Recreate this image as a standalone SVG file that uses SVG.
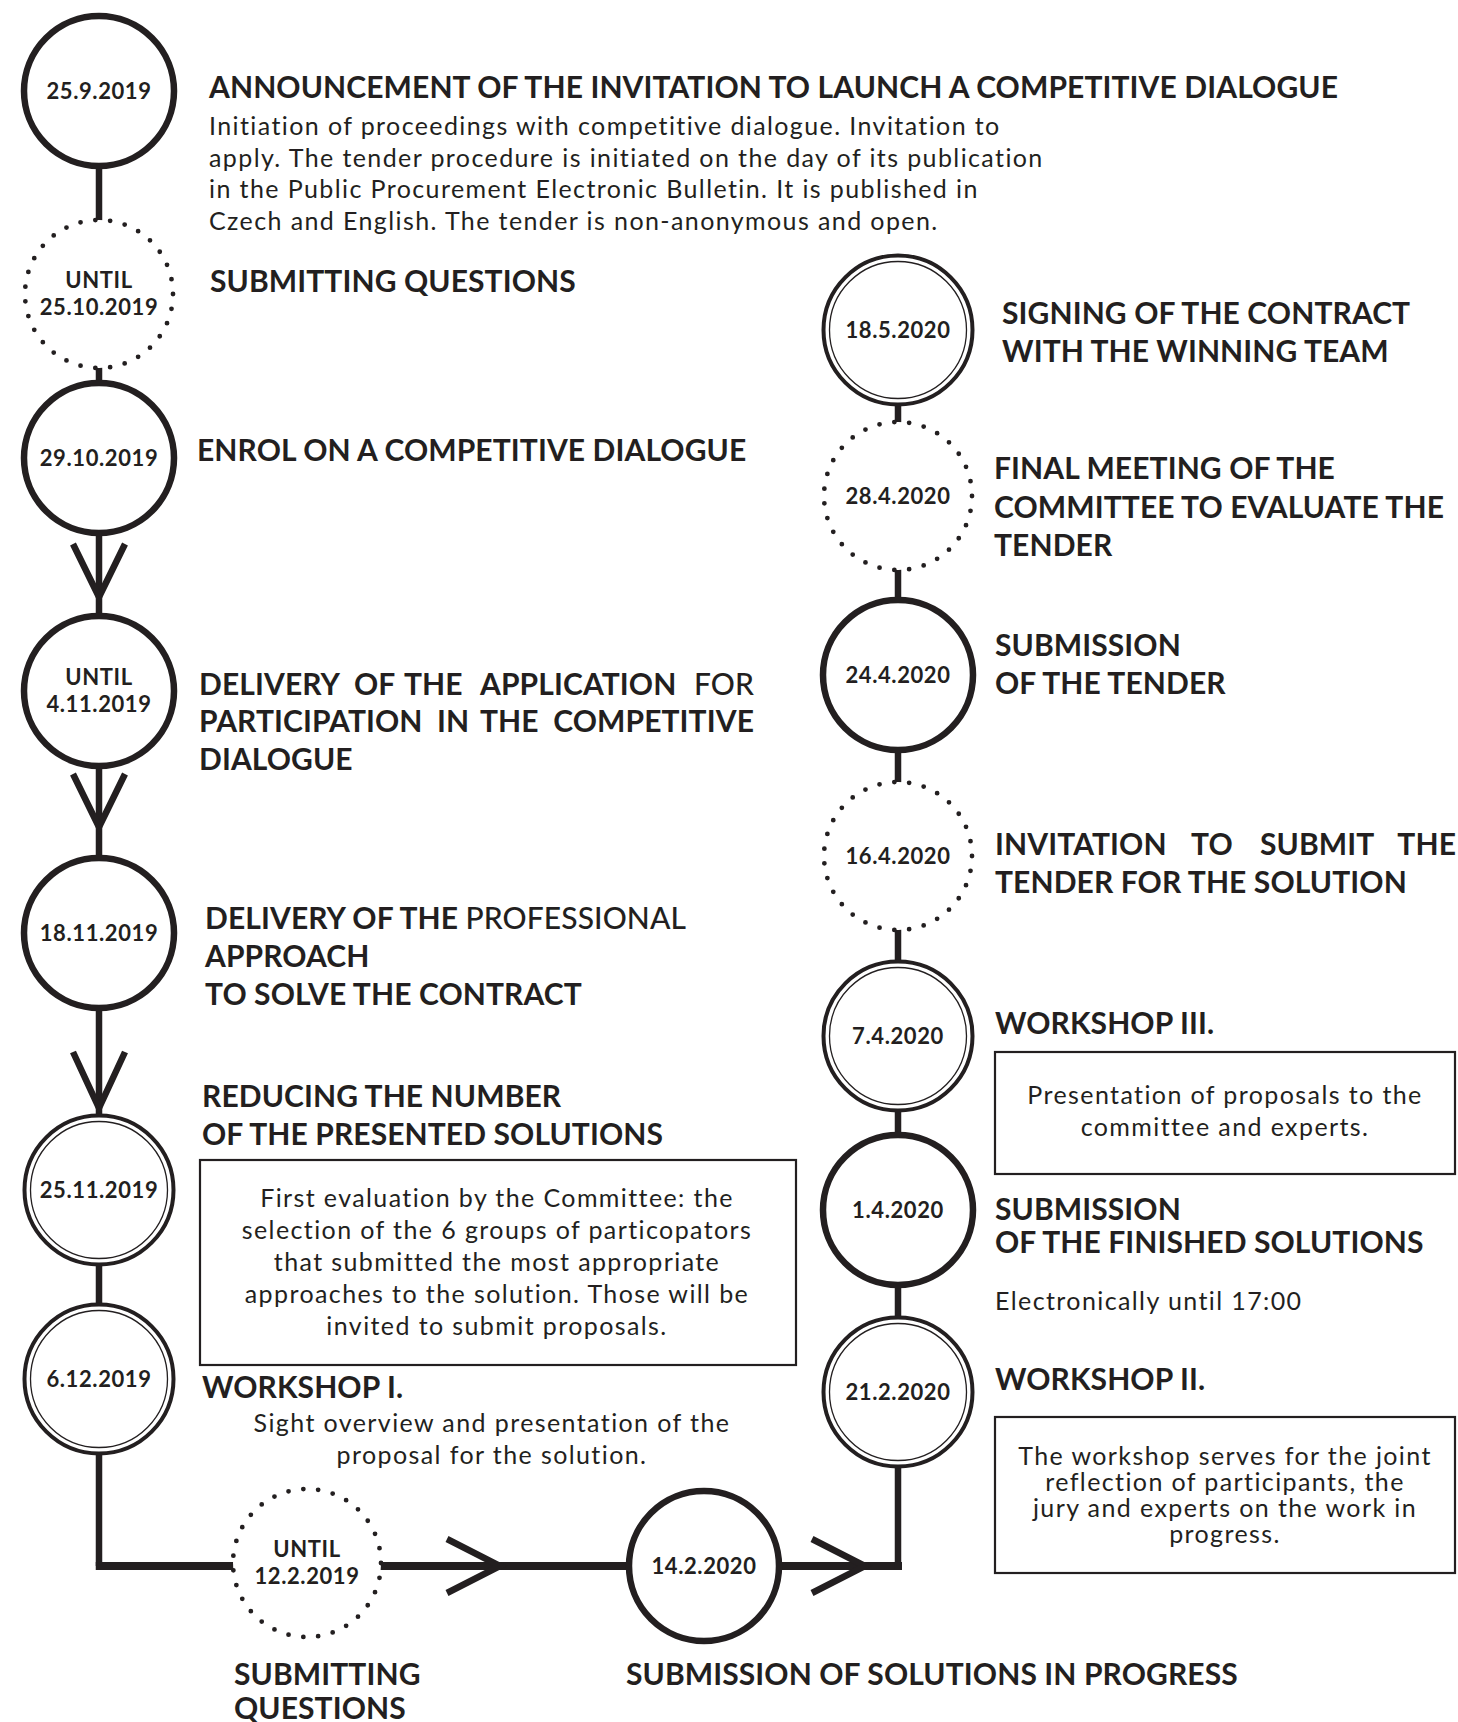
<svg xmlns="http://www.w3.org/2000/svg" width="1458" height="1722" viewBox="0 0 1458 1722">
<style>
  text { font-family: Lato, "Liberation Sans", sans-serif; fill: #231f20; }
  .h { font-weight: 700; font-size: 30px; letter-spacing: 0.1px; }
  .hm { font-weight: 500; }
  .b { font-weight: 400; font-size: 25px; letter-spacing: 1.4px; }
  .bc { font-weight: 400; font-size: 25px; letter-spacing: 1.4px; text-anchor: middle; }
  .d { font-weight: 700; font-size: 22px; text-anchor: middle; letter-spacing: 0.6px; }
  .thick { fill: #fff; stroke: #231f20; stroke-width: 6.5; }
  .dbl { fill: #fff; stroke: #231f20; stroke-width: 4; }
  .dbl-in { fill: none; stroke: #231f20; stroke-width: 1.3; }
  .dot { fill: #fff; stroke: #231f20; stroke-width: 4.8; stroke-linecap: round; stroke-dasharray: 0 1; }
  .box { fill: #fff; stroke: #231f20; stroke-width: 2.2; }
  .ln { fill: none; stroke: #231f20; stroke-width: 6.5; }
  .lnh { fill: none; stroke: #231f20; stroke-width: 8; }
  .chev { fill: none; stroke: #231f20; stroke-width: 6.5; stroke-linejoin: miter; }
</style>
<rect width="1458" height="1722" fill="#fff"/>

<g id="connectors">
  <line class="ln" x1="99" y1="91" x2="99" y2="1566"/>
  <line class="lnh" x1="95.75" y1="1566" x2="902" y2="1566"/>
  <line class="ln" x1="898" y1="330" x2="898" y2="1569"/>
  <polyline class="chev" points="73,544 99,597 125,544"/>
  <polyline class="chev" points="73,774 99,827 125,774"/>
  <polyline class="chev" points="73,1052 99,1108 125,1052"/>
  <polyline class="chev" points="447,1539 500,1566 447,1593"/>
  <polyline class="chev" points="812,1539 865,1566 812,1593"/>
</g>

<g id="n-25-9-2019">
  <circle class="thick" cx="99" cy="91" r="75"/>
  <text class="d" x="99" y="99">25.9.2019</text>
  <text class="h" x="209" y="98">ANNOUNCEMENT OF THE INVITATION TO LAUNCH A COMPETITIVE DIALOGUE</text>
  <text class="b" x="209" y="135">Initiation of proceedings with competitive dialogue. Invitation to</text>
  <text class="b" x="209" y="167">apply. The tender procedure is initiated on the day of its publication</text>
  <text class="b" x="209" y="198">in the Public Procurement Electronic Bulletin. It is published in</text>
  <text class="b" x="209" y="230">Czech and English. The tender is non-anonymous and open.</text>
</g>

<g id="n-25-10-2019">
  <circle class="dot" cx="99" cy="294" r="74" pathLength="31"/>
  <text class="d" x="99" y="288">UNTIL</text>
  <text class="d" x="99" y="315">25.10.2019</text>
  <text class="h" x="210" y="292">SUBMITTING QUESTIONS</text>
</g>

<g id="n-29-10-2019">
  <circle class="thick" cx="99" cy="458" r="75"/>
  <text class="d" x="99" y="466">29.10.2019</text>
  <text class="h" x="197" y="461">ENROL ON A COMPETITIVE DIALOGUE</text>
</g>

<g id="n-4-11-2019">
  <circle class="thick" cx="99" cy="691" r="75"/>
  <text class="d" x="99" y="685">UNTIL</text>
  <text class="d" x="99" y="712">4.11.2019</text>
  <text class="h" y="695"><tspan x="199">DELIVERY</tspan><tspan x="354">OF</tspan><tspan x="404">THE</tspan><tspan x="480">APPLICATION</tspan><tspan class="hm" x="754" text-anchor="end">FOR</tspan></text>
  <text class="h" y="732"><tspan x="199">PARTICIPATION</tspan><tspan x="437">IN</tspan><tspan x="480">THE</tspan><tspan x="754" text-anchor="end">COMPETITIVE</tspan></text>
  <text class="h" x="199" y="770">DIALOGUE</text>
</g>

<g id="n-18-11-2019">
  <circle class="thick" cx="99" cy="933" r="75"/>
  <text class="d" x="99" y="941">18.11.2019</text>
  <text class="h" x="205" y="929">DELIVERY OF THE <tspan class="hm">PROFESSIONAL</tspan></text>
  <text class="h" x="205" y="967">APPROACH</text>
  <text class="h" x="205" y="1005">TO SOLVE THE CONTRACT</text>
</g>

<g id="n-25-11-2019">
  <circle class="dbl" cx="99" cy="1190" r="74.5"/>
  <circle class="dbl-in" cx="99" cy="1190" r="68.5"/>
  <text class="d" x="99" y="1198">25.11.2019</text>
  <text class="h" x="202" y="1107">REDUCING THE NUMBER</text>
  <text class="h" x="202" y="1145">OF THE PRESENTED SOLUTIONS</text>
  <rect class="box" x="200" y="1160" width="596" height="205"/>
  <text class="bc" x="497" y="1207">First evaluation by the Committee: the</text>
  <text class="bc" x="497" y="1239">selection of the 6 groups of particopators</text>
  <text class="bc" x="497" y="1271">that submitted the most appropriate</text>
  <text class="bc" x="497" y="1303">approaches to the solution. Those will be</text>
  <text class="bc" x="497" y="1335">invited to submit proposals.</text>
</g>

<g id="n-6-12-2019">
  <circle class="dbl" cx="99" cy="1379" r="74.5"/>
  <circle class="dbl-in" cx="99" cy="1379" r="68.5"/>
  <text class="d" x="99" y="1387">6.12.2019</text>
  <text class="h" x="202" y="1398">WORKSHOP I.</text>
  <text class="bc" x="492" y="1432">Sight overview and presentation of the</text>
  <text class="bc" x="492" y="1464">proposal for the solution.</text>
</g>

<g id="n-12-2-2019">
  <circle class="dot" cx="307" cy="1563" r="74" pathLength="31"/>
  <text class="d" x="307" y="1557">UNTIL</text>
  <text class="d" x="307" y="1584">12.2.2019</text>
  <text class="h" x="234" y="1685">SUBMITTING</text>
  <text class="h" x="234" y="1719">QUESTIONS</text>
</g>

<g id="n-14-2-2020">
  <circle class="thick" cx="704" cy="1566" r="75"/>
  <text class="d" x="704" y="1574">14.2.2020</text>
  <text class="h" x="626" y="1685">SUBMISSION OF SOLUTIONS IN PROGRESS</text>
</g>

<g id="n-21-2-2020">
  <circle class="dbl" cx="898" cy="1392" r="74.5"/>
  <circle class="dbl-in" cx="898" cy="1392" r="68.5"/>
  <text class="d" x="898" y="1400">21.2.2020</text>
  <text class="h" x="995" y="1390">WORKSHOP II.</text>
  <rect class="box" x="995" y="1417" width="460" height="156"/>
  <text class="bc" x="1225" y="1465">The workshop serves for the joint</text>
  <text class="bc" x="1225" y="1491">reflection of participants, the</text>
  <text class="bc" x="1225" y="1517">jury and experts on the work in</text>
  <text class="bc" x="1225" y="1543">progress.</text>
</g>

<g id="n-1-4-2020">
  <circle class="thick" cx="898" cy="1210" r="75"/>
  <text class="d" x="898" y="1218">1.4.2020</text>
  <text class="h" x="995" y="1220">SUBMISSION</text>
  <text class="h" x="995" y="1253">OF THE FINISHED SOLUTIONS</text>
  <text class="b" x="995" y="1310">Electronically until 17:00</text>
</g>

<g id="n-7-4-2020">
  <circle class="dbl" cx="898" cy="1036" r="74.5"/>
  <circle class="dbl-in" cx="898" cy="1036" r="68.5"/>
  <text class="d" x="898" y="1044">7.4.2020</text>
  <text class="h" x="995" y="1034">WORKSHOP III.</text>
  <rect class="box" x="995" y="1052" width="460" height="122"/>
  <text class="bc" x="1225" y="1104">Presentation of proposals to the</text>
  <text class="bc" x="1225" y="1136">committee and experts.</text>
</g>

<g id="n-16-4-2020">
  <circle class="dot" cx="898" cy="856" r="74" pathLength="31"/>
  <text class="d" x="898" y="864">16.4.2020</text>
  <text class="h" y="855"><tspan x="995">INVITATION</tspan><tspan x="1191">TO</tspan><tspan x="1260">SUBMIT</tspan><tspan x="1456" text-anchor="end">THE</tspan></text>
  <text class="h" x="995" y="893">TENDER FOR THE SOLUTION</text>
</g>

<g id="n-24-4-2020">
  <circle class="thick" cx="898" cy="675" r="75"/>
  <text class="d" x="898" y="683">24.4.2020</text>
  <text class="h" x="995" y="656">SUBMISSION</text>
  <text class="h" x="995" y="694">OF THE TENDER</text>
</g>

<g id="n-28-4-2020">
  <circle class="dot" cx="898" cy="496" r="74" pathLength="31"/>
  <text class="d" x="898" y="504">28.4.2020</text>
  <text class="h" x="994" y="479">FINAL MEETING OF THE</text>
  <text class="h" x="994" y="518">COMMITTEE TO EVALUATE THE</text>
  <text class="h" x="994" y="556">TENDER</text>
</g>

<g id="n-18-5-2020">
  <circle class="dbl" cx="898" cy="330" r="74.5"/>
  <circle class="dbl-in" cx="898" cy="330" r="68.5"/>
  <text class="d" x="898" y="338">18.5.2020</text>
  <text class="h" x="1002" y="324">SIGNING OF THE CONTRACT</text>
  <text class="h" x="1002" y="362">WITH THE WINNING TEAM</text>
</g>
</svg>
